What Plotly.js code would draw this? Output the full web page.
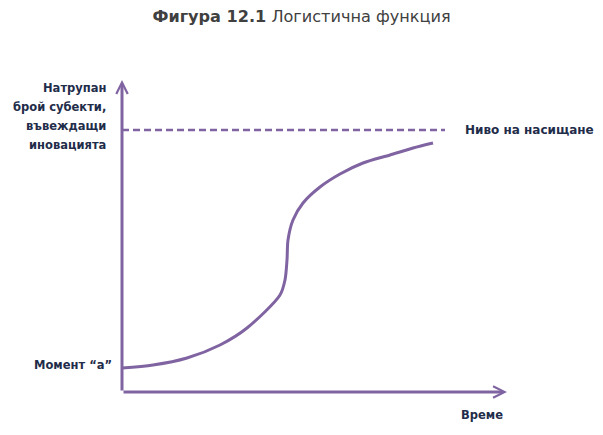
<!DOCTYPE html>
<html><head><meta charset="utf-8">
<script src="https://cdn.plot.ly/plotly-3.0.1.min.js"></script>
<style>html,body{margin:0;padding:0;background:#fff}#c{width:603px;height:435px}</style>
</head><body><div id="c"></div>
<script>
// Logistic curve (time vs. cumulative adopters)
const timeVals = [0, 31, 65, 98, 125, 158, 163, 165, 166, 171, 181, 198, 218, 241, 268, 291, 311];
const adopters = [24, 27, 34, 47, 64, 97, 112, 132, 152, 172, 189, 205, 218, 229, 237, 244, 249];
const saturationLevel = 262;
const saturationEnd = 323;
const startLevel = 24;
const titleBold = 'Фигура 12.1';
const titleRest = 'Логистична функция';
const yLabelLines = ['Натрупан', 'брой субекти,', 'въвеждащи', 'иновацията'];
const startLabel = 'Момент “а”';
const satLabel = 'Ниво на насищане';
const xLabel = 'Време';

const purple = '#8064A2';
const navy = '#1F2D4A';
const xMax = 385, yMax = 312;

const traces = [
  {x: timeVals, y: adopters, mode: 'lines', line: {color: purple, width: 3, shape: 'spline', smoothing: 0.8}, hoverinfo: 'skip'},
  {x: [0, saturationEnd], y: [saturationLevel, saturationLevel], mode: 'lines', line: {color: purple, width: 2.5, dash: '7px,4px'}, hoverinfo: 'skip'}
];

const lblFont = {family: 'DejaVu Sans, sans-serif', size: 11.5, color: navy, weight: 'bold'};
const satFont = Object.assign({}, lblFont, {size: 12});
const annotations = [
  {x: xMax, y: 0, ax: 0, ay: 0, xref: 'x', yref: 'y', axref: 'x', ayref: 'y', showarrow: true, arrowhead: 5, arrowsize: 0.75, arrowwidth: 3, arrowcolor: purple, text: ''},
  {x: 0, y: yMax, ax: 0, ay: 0, xref: 'x', yref: 'y', axref: 'x', ayref: 'y', showarrow: true, arrowhead: 5, arrowsize: 0.75, arrowwidth: 3, arrowcolor: purple, text: ''},
  {x: -8, y: startLevel + 3, xref: 'x', yref: 'y', xanchor: 'right', yanchor: 'middle', showarrow: false, text: startLabel, font: lblFont},
  {x: 341, y: saturationLevel, xref: 'x', yref: 'y', xanchor: 'left', yanchor: 'middle', showarrow: false, text: satLabel, font: satFont},
  {x: 360, y: -23, xref: 'x', yref: 'y', xanchor: 'center', yanchor: 'middle', showarrow: false, text: xLabel, font: lblFont}
];
yLabelLines.forEach((t, i) => {
  annotations.push({x: -14, y: 304 - i * 19, xref: 'x', yref: 'y', xanchor: 'right', yanchor: 'middle', showarrow: false, text: t, font: lblFont});
});

const layout = {
  width: 603, height: 435,
  margin: {l: 0, r: 0, t: 0, b: 0},
  paper_bgcolor: '#fff', plot_bgcolor: '#fff',
  showlegend: false,
  title: {text: '<b>' + titleBold + '</b> ' + titleRest, x: 0.5, xref: 'paper', xanchor: 'center', y: 1, yref: 'container', yanchor: 'top', pad: {t: 11},
          font: {family: 'DejaVu Sans, sans-serif', size: 16.1, color: '#404040'}},
  xaxis: {range: [-122, 481], visible: false, fixedrange: true},
  yaxis: {range: [-43, 392], visible: false, fixedrange: true},
  annotations: annotations
};
Plotly.newPlot('c', traces, layout, {staticPlot: true});
</script></body></html>
